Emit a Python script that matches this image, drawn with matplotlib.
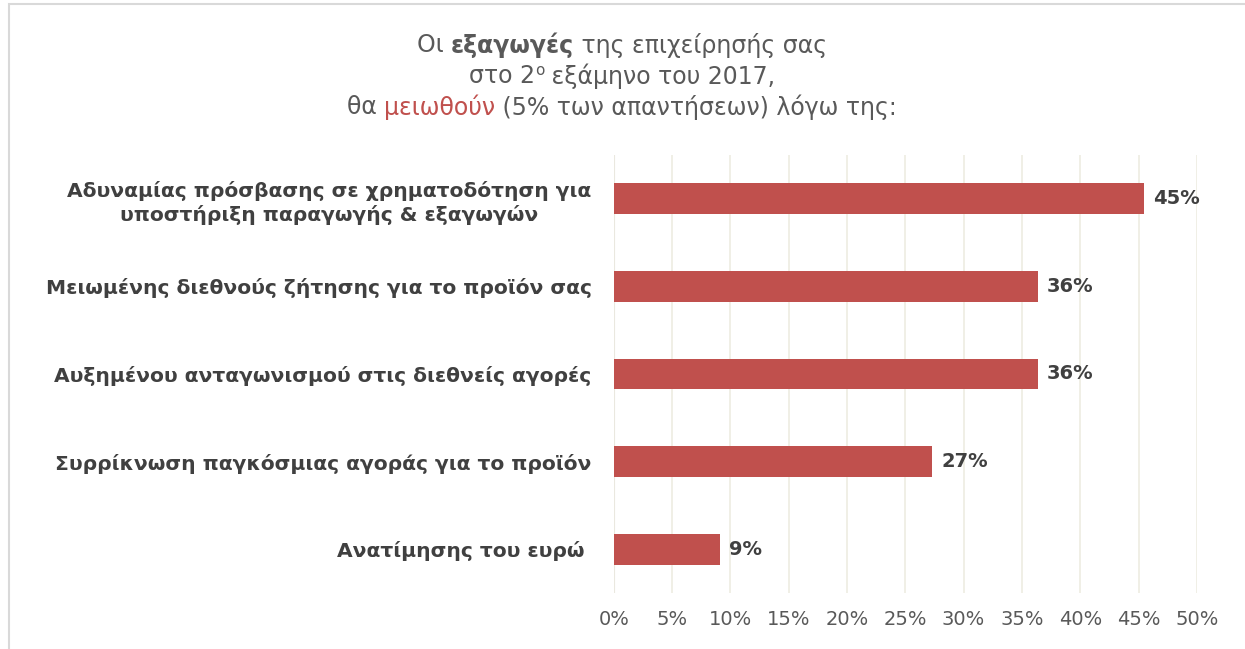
import numpy as np
import matplotlib
matplotlib.use("Agg")
from matplotlib import pyplot as plt
from matplotlib.patches import Rectangle

plt.rcParams['font.family'] = ['DejaVu Sans']

categories = [
    'Αδυναμίας πρόσβασης σε χρηματοδότηση για\nυποστήριξη παραγωγής & εξαγωγών',
    'Μειωμένης διεθνούς ζήτησης για το προϊόν σας',
    'Αυξημένου ανταγωνισμού στις διεθνείς αγορές',
    'Συρρίκνωση παγκόσμιας αγοράς για το προϊόν',
    'Ανατίμησης του ευρώ ',
]
values = [45.45, 36.36, 36.36, 27.27, 9.09]
value_labels = ['45%', '36%', '36%', '27%', '9%']
ticks = [0, 5, 10, 15, 20, 25, 30, 35, 40, 45, 50]

bar_color = '#c0504d'
text_dark = '#404040'
text_grey = '#595959'

fig = plt.figure(figsize=(12.45, 6.49), dpi=100)
ax = fig.add_axes([0.493, 0.0863, 0.4683, 0.6749])

y = np.arange(len(categories))
ax.barh(y, values, height=0.35, color=bar_color, zorder=3)
ax.set_ylim(len(categories) - 0.5, -0.5)
ax.set_xlim(0, 50)

ax.set_xticks(ticks)
ax.set_xticklabels([f'{t}%' for t in ticks], fontsize=14, color=text_grey)
ax.set_yticks(y)
ax.set_yticklabels(categories, fontsize=14.6, fontweight='bold', color=text_dark,
                   linespacing=1.25, ha='right', multialignment='center')
ax.yaxis.set_tick_params(pad=16)

# Remove spines and ticks
for s in ['top', 'bottom', 'right', 'left']:
    ax.spines[s].set_visible(False)
ax.tick_params(length=0)
ax.xaxis.set_tick_params(pad=12)

# gridlines
ax.grid(axis='x', color='#eeece1', linewidth=1.2, zorder=0)
ax.axvline(0, color='#d9d9d9', linewidth=1.5, zorder=1)

for yi, v, lab in zip(y, values, value_labels):
    ax.text(v + 0.8, yi, lab, va='center', ha='left', fontsize=14,
            fontweight='bold', color=text_dark, zorder=4)

# frame (left & top)
fig.patches.append(Rectangle((9 / 1245, -0.1), 1.2, 1 - 4 / 649 + 0.1,
                             transform=fig.transFigure, fill=False,
                             edgecolor='#d9d9d9', linewidth=1.5))

# title with mixed styles
title_lines = [
    [('Οι ', 'normal', text_grey), ('εξαγωγές', 'bold', text_grey),
     (' της επιχείρησής σας', 'normal', text_grey)],
    [('στο 2', 'normal', text_grey), ('ο', 'sup', text_grey),
     (' εξάμηνο του 2017,', 'normal', text_grey)],
    [('θα ', 'normal', text_grey), ('μειωθούν', 'normal', bar_color),
     (' (5% των απαντήσεων) λόγω της:', 'normal', text_grey)],
]
title_y = [45, 76, 107]
fig.canvas.draw()
renderer = fig.canvas.get_renderer()
for parts, ypx in zip(title_lines, title_y):
    texts = []
    for s, style, col in parts:
        size = 11 if style == 'sup' else 17
        t = fig.text(0, 1 - ypx / 649 + (0.008 if style == 'sup' else 0), s,
                     fontsize=size, color=col,
                     fontweight='bold' if style == 'bold' else 'normal',
                     va='center', ha='left')
        texts.append(t)
    widths = [t.get_window_extent(renderer).width for t in texts]
    total = sum(widths)
    x = 622 - total / 2
    for t, w in zip(texts, widths):
        t.set_x(x / 1245)
        x += w

fig.savefig('out.png', dpi=100)
